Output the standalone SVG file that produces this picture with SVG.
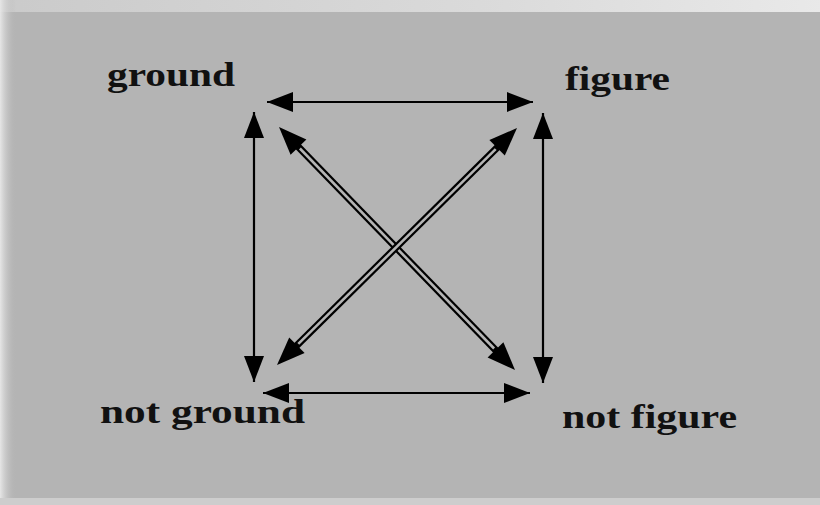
<svg xmlns="http://www.w3.org/2000/svg" width="820" height="505" viewBox="0 0 820 505">
  <defs>
    <marker id="ah" viewBox="0 0 26 20" refX="26" refY="10" markerWidth="26" markerHeight="20" markerUnits="userSpaceOnUse" orient="auto-start-reverse">
      <path d="M0,0 L26,10 L0,20 z" fill="#000"/>
    </marker>
    <linearGradient id="topfade" x1="0" y1="0" x2="1" y2="0">
      <stop offset="0" stop-color="#d0d0d0"/>
      <stop offset="0.6" stop-color="#e4e4e4"/>
      <stop offset="1" stop-color="#f6f6f6"/>
    </linearGradient>
    <linearGradient id="leftfade" x1="0" y1="0" x2="1" y2="0">
      <stop offset="0" stop-color="#e6e6e6"/>
      <stop offset="1" stop-color="#b4b4b4" stop-opacity="0"/>
    </linearGradient>
  </defs>
  <style>
    .lbl { font-family: "Liberation Serif", "Times New Roman", serif; font-weight: bold; font-size: 34px; fill: #111; }
    .ln { stroke: #000; stroke-width: 2.2; fill: none; }
    .dbl { stroke: #000; stroke-width: 7; fill: none; }
    .dblin { stroke: #b4b4b4; stroke-width: 2.6; fill: none; }
    .head { fill: #000; }
  </style>
  <g id="background">
    <rect x="0" y="0" width="820" height="505" fill="#b4b4b4"/>
    <rect x="0" y="0" width="820" height="12" fill="url(#topfade)" opacity="0.8"/>
    <rect x="0" y="0" width="16" height="505" fill="url(#leftfade)"/>
    <rect x="0" y="498" width="820" height="7" fill="#cdcdcd"/>
  </g>
  <g id="connectors">
    <line class="ln" x1="267" y1="102" x2="533" y2="102" marker-start="url(#ah)" marker-end="url(#ah)"/>
    <line class="ln" x1="263" y1="393" x2="530" y2="393" marker-start="url(#ah)" marker-end="url(#ah)"/>
    <line class="ln" x1="254" y1="112" x2="254" y2="382" marker-start="url(#ah)" marker-end="url(#ah)"/>
    <line class="ln" x1="543" y1="113" x2="543" y2="383" marker-start="url(#ah)" marker-end="url(#ah)"/>
    <g id="diag-ground-notfigure">
      <line class="dbl" x1="292.9" y1="141.3" x2="501.1" y2="355.7"/>
      <line class="dblin" x1="299.9" y1="148.5" x2="494.1" y2="348.5"/>
      <polygon class="head" points="279,127 290.6,154.8 306.4,139.4"/>
      <polygon class="head" points="515,370 487.6,357.6 503.4,342.2"/>
    </g>
    <g id="diag-figure-notground">
      <line class="dbl" x1="502.8" y1="142.1" x2="291.2" y2="350.9"/>
      <line class="dblin" x1="495.7" y1="149.1" x2="298.3" y2="343.9"/>
      <polygon class="head" points="517,128 489.4,139.9 504.8,155.5"/>
      <polygon class="head" points="277,365 289.2,337.5 304.6,353.1"/>
    </g>
  </g>
  <g id="ground">
    <text class="lbl" x="107" y="86" textLength="128" lengthAdjust="spacingAndGlyphs">ground</text>
  </g>
  <g id="figure">
    <text class="lbl" x="565" y="90" textLength="105" lengthAdjust="spacingAndGlyphs">figure</text>
  </g>
  <g id="not-ground">
    <text class="lbl" x="100" y="423" textLength="205" lengthAdjust="spacingAndGlyphs">not ground</text>
  </g>
  <g id="not-figure">
    <text class="lbl" x="562" y="428" textLength="175" lengthAdjust="spacingAndGlyphs">not figure</text>
  </g>
</svg>
